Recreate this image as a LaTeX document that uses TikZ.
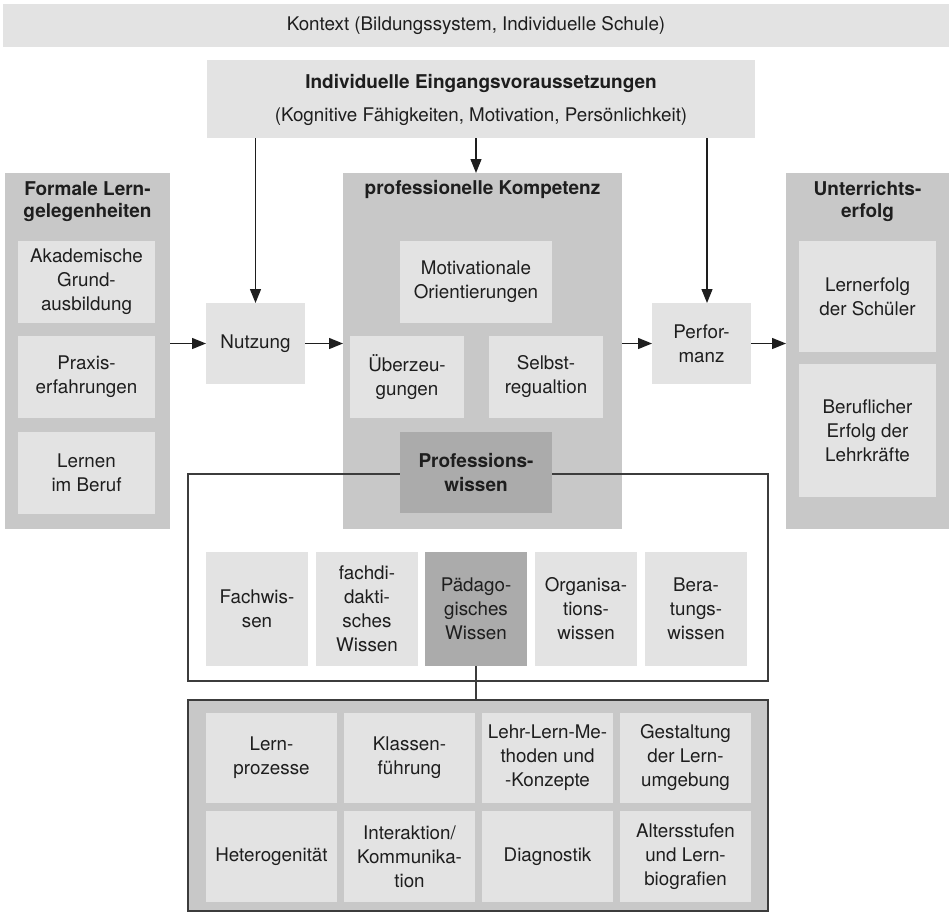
\documentclass[tikz,border=0pt]{standalone}
\usepackage{fontspec}
\setmainfont{TeX Gyre Heros}
\usetikzlibrary{arrows.meta}
\definecolor{lightbox}{HTML}{E3E3E3}
\definecolor{midbox}{HTML}{C8C8C8}
\definecolor{darkbox}{HTML}{ABABAB}
\definecolor{ink}{HTML}{1E1E1E}
\definecolor{frame}{HTML}{3C3C3C}

\begin{document}
\begin{tikzpicture}[x=1pt, y=-1pt,
  base/.style={rectangle, inner sep=0pt, outer sep=0pt, align=center, text=ink,
    font=\fontsize{18.8}{24}\selectfont},
  light/.style={base, fill=lightbox},
  mid/.style={base, fill=midbox},
  dark/.style={base, fill=darkbox},
  size/.style 2 args={minimum width=#1pt, minimum height=#2pt},
  title/.style={base, font=\bfseries\fontsize{19}{22}\selectfont},
  arr/.style={draw=ink, line width=1.3pt, -{Triangle[length=14pt,width=11pt]}},
  link/.style={draw=frame, line width=1.4pt},
  framed/.style={draw=frame, line width=1.4pt}]

\useasboundingbox (0,0) rectangle (949,911);

% context band and entry requirements
\node[light, size={946}{43}] (kontext) at (476,25.5) {Kontext (Bildungssystem, Individuelle Schule)};
\node[light, size={548}{78}] (indiv) at (481,99) {};
\node[title] (indivtitle) at (481,83) {Individuelle Eingangsvoraussetzungen};
\node[base] (indivtext) at (481,117) {(Kognitive Fähigkeiten, Motivation, Persönlichkeit)};

% formal learning opportunities
\node[mid, size={165}{356}] (formale) at (87.5,351) {};
\node[title] (formaletitle) at (87.5,201.5) {Formale Lern-\\gelegenheiten};
\node[light, size={137}{82}] (akad) at (86.5,282) {Akademische\\Grund-\\ausbildung};
\node[light, size={137}{82}] (praxis) at (86.5,377) {Praxis-\\erfahrungen};
\node[light, size={137}{82}] (lernen) at (86.5,473) {Lernen\\im Beruf};

% use of opportunities
\node[light, size={99}{81}] (nutzung) at (255.5,343.5) {Nutzung};

% professional competence
\node[mid, size={279}{356}] (profkomp) at (482.5,351) {};
\node[title] (profkomptitle) at (482.5,189) {professionelle Kompetenz};
\node[light, size={152}{82}] (motiv) at (476,282) {Motivationale\\Orientierungen};
\node[light, size={114}{82}] (ueber) at (407,377) {Überzeu-\\gungen};
\node[light, size={114}{82}] (selbst) at (546,377) {Selbst-\\regualtion};

% frame around the knowledge domains
\node[base, framed, size={580}{207}] (wissen) at (478,577.5) {};
\node[dark, size={152}{81}, font=\bfseries\fontsize{19}{23.5}\selectfont] (profw) at (476,472.5) {Professions-\\wissen};

% knowledge domains
\node[light, size={102}{114}] (fach) at (257,609) {Fachwis-\\sen};
\node[light, size={102}{114}] (fachd) at (367,609) {fachdi-\\dakti-\\sches\\Wissen};
\node[dark, size={102}{114}] (paed) at (476,609) {Pädago-\\gisches\\Wissen};
\node[light, size={102}{114}] (org) at (586,609) {Organisa-\\tions-\\wissen};
\node[light, size={102}{114}] (ber) at (696,609) {Bera-\\tungs-\\wissen};

% pedagogical knowledge facets
\node[mid, framed, size={580}{211}] (paedfacets) at (478,805.5) {};
\node[light, size={131}{90}] (c11) at (271.5,758) {Lern-\\prozesse};
\node[light, size={131}{90}] (c12) at (409.5,758) {Klassen-\\führung};
\node[light, size={131}{90}] (c13) at (547.5,758) {Lehr-Lern-Me-\\thoden und\\-Konzepte};
\node[light, size={131}{90}] (c14) at (685.5,758) {Gestaltung\\der Lern-\\umgebung};
\node[light, size={131}{91}] (c21) at (271.5,856.5) {Heterogenität};
\node[light, size={131}{91}] (c22) at (409.5,856.5) {Interaktion/\\Kommunika-\\tion};
\node[light, size={131}{91}] (c23) at (547.5,856.5) {Diagnostik};
\node[light, size={131}{91}] (c24) at (685.5,856.5) {Altersstufen\\und Lern-\\biografien};

% performance and outcomes
\node[light, size={99}{81}] (perf) at (701.5,343.5) {Perfor-\\manz};
\node[mid, size={163}{356}] (unterr) at (867.5,351) {};
\node[title] (unterrtitle) at (867.5,201.5) {Unterrichts-\\erfolg};
\node[light, size={137}{111}] (lernerf) at (867.5,296.5) {Lernerfolg\\der Schüler};
\node[light, size={137}{133}] (beruf) at (867.5,430.5) {Beruflicher\\Erfolg der\\Lehrkräfte};

% connectors
\coordinate (perfin) at (707,0);
\draw[arr] (indiv.south -| nutzung) -- (nutzung.north);
\draw[arr] (indiv.south -| motiv) -- (motiv |- profkomp.north);
\draw[arr] (indiv.south -| perfin) -- (perfin |- perf.north);
\draw[arr] (formale.east |- nutzung.west) -- (nutzung.west);
\draw[arr] (nutzung.east) -- (nutzung.east -| profkomp.west);
\draw[arr] (perf.west -| profkomp.east) -- (perf.west);
\draw[arr] (perf.east) -- (perf.east -| unterr.west);
\draw[link] (paed.south) -- (paed.south |- paedfacets.north);
\end{tikzpicture}
\end{document}
